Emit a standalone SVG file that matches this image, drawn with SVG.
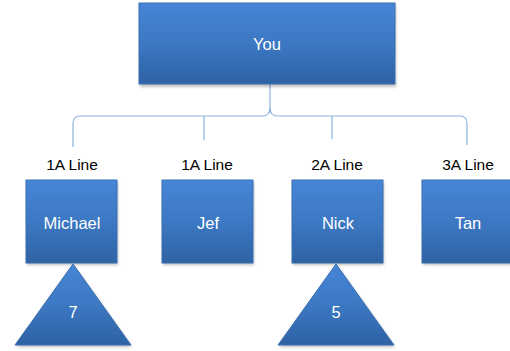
<svg xmlns="http://www.w3.org/2000/svg" width="510" height="351" viewBox="0 0 510 351">
<style>
.box{fill:url(#g);stroke:#3a6fb0;stroke-width:1}
.shadow{fill:#000;opacity:0.25;filter:url(#blur)}
.t{font-family:"Liberation Sans",Arial,sans-serif;font-size:16.5px;fill:#ffffff;text-anchor:middle}
.lbl{font-family:"Liberation Sans",Arial,sans-serif;font-size:15.5px;fill:#000;text-anchor:middle}
.con{fill:none;stroke:#8eb2dc;stroke-width:1.2}
</style>
<defs>
<linearGradient id="g" x1="0" y1="0" x2="0" y2="1">
<stop offset="0" stop-color="#4686d6"/>
<stop offset="0.5" stop-color="#3c78c3"/>
<stop offset="1" stop-color="#2e62a3"/>
</linearGradient>
<filter id="blur" x="-10%" y="-10%" width="120%" height="130%"><feGaussianBlur stdDeviation="1.5"/></filter>
</defs>
<rect width="510" height="351" fill="#fff"/>
<g id="connectors">
<path class="con" d="M270 84 V108 Q270 116 262 116 H80 Q73 116 73 124 V147"/>
<path class="con" d="M270 108 Q270 116 278 116 H460 Q467 116 467 124 V145"/>
<path class="con" d="M204 116 V140"/>
<path class="con" d="M332 116 V139"/>
</g>
<g id="you">
<rect class="shadow" x="140" y="5" width="256" height="82"/>
<rect class="box" x="139" y="3" width="256" height="81"/>
<text class="t" x="267" y="50">You</text>
</g>
<g id="label1"><text class="lbl" x="72" y="170">1A Line</text></g>
<g id="label2"><text class="lbl" x="207" y="170">1A Line</text></g>
<g id="label3"><text class="lbl" x="337" y="170">2A Line</text></g>
<g id="label4"><text class="lbl" x="468" y="170">3A Line</text></g>
<g id="michael">
<rect class="shadow" x="27" y="182" width="91" height="83"/>
<rect class="box" x="26" y="180" width="91" height="83"/>
<text class="t" x="72" y="229">Michael</text>
</g>
<g id="jef">
<rect class="shadow" x="163" y="182" width="91" height="83"/>
<rect class="box" x="162" y="180" width="91" height="83"/>
<text class="t" x="208" y="229">Jef</text>
</g>
<g id="nick">
<rect class="shadow" x="293" y="182" width="91" height="83"/>
<rect class="box" x="292" y="180" width="91" height="83"/>
<text class="t" x="338" y="229">Nick</text>
</g>
<g id="tan">
<rect class="shadow" x="423" y="182" width="91" height="83"/>
<rect class="box" x="422" y="180" width="91" height="83"/>
<text class="t" x="468" y="229">Tan</text>
</g>
<g id="tri7">
<polygon class="shadow" points="74,266 132,347 16,347"/>
<polygon class="box" points="73,264 131,345 15,345"/>
<text class="t" x="73" y="318">7</text>
</g>
<g id="tri5">
<polygon class="shadow" points="337,266 395,347 279,347"/>
<polygon class="box" points="336,264 394,345 278,345"/>
<text class="t" x="336" y="318">5</text>
</g>
</svg>
